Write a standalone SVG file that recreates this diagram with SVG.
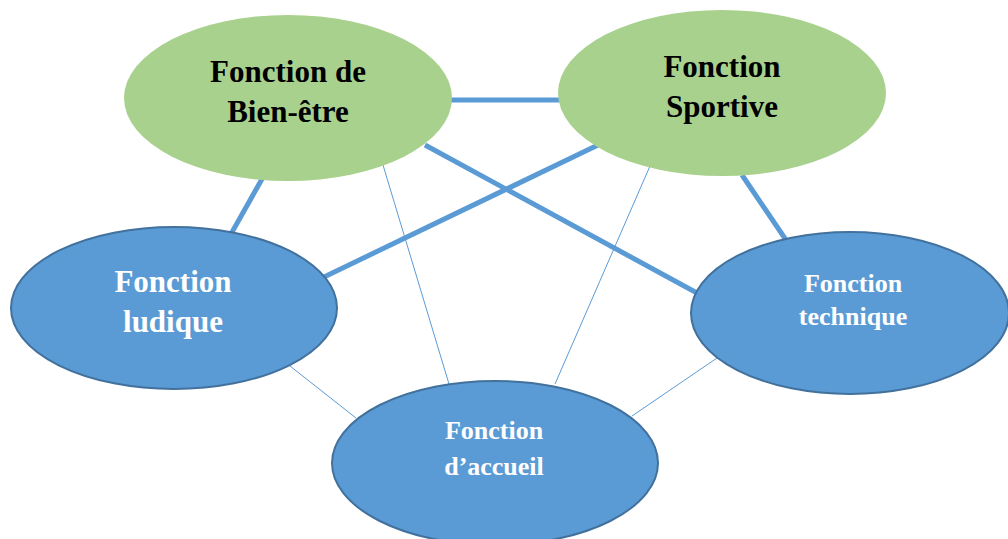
<svg xmlns="http://www.w3.org/2000/svg" width="1008" height="539" viewBox="0 0 1008 539">
<style>
.green{fill:#a9d18e;stroke:none}
.blue{fill:#5b9bd5;stroke:#41719c;stroke-width:2}
.thick{stroke:#5b9bd5;stroke-width:5;fill:none}
.thin{stroke:#5b9bd5;stroke-width:1;fill:none}
text{font-family:"Liberation Serif","Times New Roman",serif;font-weight:bold;text-anchor:middle}
.dark{fill:#000;font-size:31px}
.big{fill:#fff;font-size:31px}
.small{fill:#fff;font-size:26px}
</style>
<rect width="1008" height="539" fill="#fff"/>
<g id="connectors">
<line class="thick" x1="450" y1="100" x2="562" y2="100"/>
<line class="thick" x1="262" y1="179" x2="231" y2="234"/>
<line class="thick" x1="742" y1="175" x2="786" y2="240"/>
<line class="thick" x1="425" y1="145" x2="697" y2="293"/>
<line class="thick" x1="598" y1="145" x2="324" y2="277"/>
<line class="thin" x1="383" y1="165" x2="449" y2="384"/>
<line class="thin" x1="650" y1="166" x2="555" y2="384"/>
<line class="thin" x1="290" y1="366" x2="356" y2="418"/>
<line class="thin" x1="717" y1="358" x2="632" y2="416"/>
</g>
<g id="node-bienetre">
<ellipse class="green" cx="288" cy="98" rx="164" ry="83"/>
<text class="dark" x="288" y="82">Fonction de</text>
<text class="dark" x="288" y="122">Bien-être</text>
</g>
<g id="node-sportive">
<ellipse class="green" cx="722" cy="93" rx="164" ry="83"/>
<text class="dark" x="722" y="77">Fonction</text>
<text class="dark" x="722" y="117">Sportive</text>
</g>
<g id="node-ludique">
<ellipse class="blue" cx="174" cy="308" rx="163" ry="81"/>
<text class="big" x="173" y="292">Fonction</text>
<text class="big" x="173" y="332">ludique</text>
</g>
<g id="node-technique">
<ellipse class="blue" cx="850" cy="313" rx="159" ry="81"/>
<text class="small" x="853" y="292">Fonction</text>
<text class="small" x="853" y="325">technique</text>
</g>
<g id="node-accueil">
<ellipse class="blue" cx="495" cy="463" rx="163" ry="82"/>
<text class="small" x="494" y="439">Fonction</text>
<text class="small" x="494" y="475">d’accueil</text>
</g>
</svg>
